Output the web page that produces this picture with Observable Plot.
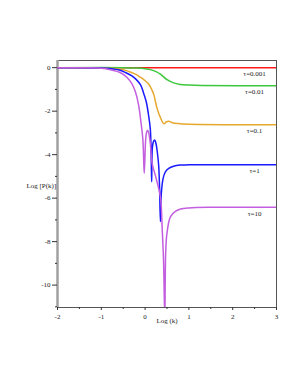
<!DOCTYPE html>
<html>
<head>
<meta charset="utf-8">
<script src="https://cdn.jsdelivr.net/npm/d3@7"></script>
<script src="https://cdn.jsdelivr.net/npm/@observablehq/plot@0.6"></script>
<style>
  html, body { margin: 0; padding: 0; background: #fff; }
</style>
</head>
<body>
<div id="chart"></div>
<script>
// Series labels
const tauLabels = ["τ=0.001", "τ=0.01", "τ=0.1", "τ=1", "τ=10"];
const colors = ["#ff1a1a", "#3cc83c", "#e6a82e", "#1a1aff", "#c45ee0"];

// [log k, log P(k)]
const tau0001 = [[-2, 0], [0, 0], [1, -0.005], [3, -0.005]];
const tau001 = [[-2, 0], [-0.5, 0], [-0.2, -0.02], [0, -0.05], [0.12, -0.09], [0.25, -0.18],
  [0.35, -0.3], [0.5, -0.55], [0.65, -0.7], [0.8, -0.77], [1.0, -0.8], [1.3, -0.82], [3, -0.83]];
const tau01 = [[-2, 0], [-1, -0.01], [-0.7, -0.04], [-0.5, -0.1], [-0.34, -0.2], [-0.2, -0.32],
  [-0.1, -0.45], [0, -0.6], [0.08, -0.75], [0.15, -1.0], [0.2, -1.25], [0.27, -1.85],
  [0.35, -2.3], [0.43, -2.58], [0.48, -2.5], [0.54, -2.46], [0.62, -2.53], [0.75, -2.57],
  [1, -2.6], [3, -2.62]];
const tau1 = [[-2, 0], [-1, -0.01], [-0.8, -0.04], [-0.57, -0.12], [-0.45, -0.22], [-0.3, -0.38],
  [-0.2, -0.55], [-0.1, -0.8], [-0.03, -1.2], [0.03, -1.6], [0.08, -2.2], [0.12, -2.85],
  [0.14, -4.2], [0.15, -5.25], [0.165, -3.7], [0.19, -3.4], [0.22, -3.33], [0.25, -3.5],
  [0.28, -3.9], [0.31, -4.5], [0.33, -5.5], [0.35, -7.08], [0.37, -5.8], [0.41, -5.1],
  [0.46, -4.8], [0.54, -4.63], [0.65, -4.53], [0.8, -4.48], [1, -4.47], [3, -4.47]];
const tau10 = [[-2, 0], [-1.3, -0.005], [-1, -0.03], [-0.79, -0.1], [-0.57, -0.22], [-0.41, -0.45],
  [-0.3, -0.75], [-0.22, -1.12], [-0.15, -1.7], [-0.1, -2.42], [-0.05, -3.33], [-0.02, -4.86],
  [0.01, -3.4], [0.03, -3.0], [0.055, -2.88], [0.08, -2.98], [0.12, -3.5], [0.16, -4.4],
  [0.24, -5.0], [0.35, -5.95], [0.39, -7.4], [0.42, -8.8], [0.45, -11.6], [0.47, -8.5],
  [0.5, -7.6], [0.58, -6.85], [0.7, -6.6], [0.81, -6.5], [1, -6.45], [1.5, -6.42], [3, -6.42]];
const seriesData = [tau0001, tau001, tau01, tau1, tau10];

// Ticks
const xTicks = [-2, -1, 0, 1, 2, 3];
const xMinorTicks = [-1.5, -0.5, 0.5, 1.5, 2.5];
const yTicks = [0, -2, -4, -6, -8, -10];
const yMinorTicks = [-1, -3, -5, -7, -9, -11];
const xLabel = "Log (k)";
const yLabel = "Log [P(k)]";
const labelX = 2.5;

const lineMarks = seriesData.map((s, i) =>
  Plot.line(s, {x: d => d[0], y: d => d[1], stroke: colors[i], strokeWidth: 1.5,
    curve: "catmull-rom", clip: true}));

const labelData = seriesData.map((s, i) => ({x: labelX, y: s[s.length - 1][1], t: tauLabels[i]}));

const chart = Plot.plot({
  width: 298,
  height: 385,
  marginLeft: 57,
  marginRight: 22,
  marginTop: 60,
  marginBottom: 78,
  style: {fontFamily: "'Liberation Serif', serif", fontSize: "7px", background: "#fff", color: "#222"},
  x: {domain: [-2, 3]},
  y: {domain: [-11.03, 0.33]},
  marks: [
    Plot.frame({stroke: "#555", strokeWidth: 1}),
    Plot.ruleX([-2], {stroke: "#a0a0a0", strokeWidth: 2.5}),
    Plot.axisX({ticks: xTicks, tickSize: 3, tickPadding: 4, tickFormat: d => String(d), label: null, stroke: "#333"}),
    Plot.axisX({ticks: xMinorTicks, tickSize: 2, text: null, label: null, stroke: "#333"}),
    Plot.axisY({ticks: yTicks, tickSize: 5, tickPadding: 2, tickFormat: d => String(d), label: null, stroke: "#333"}),
    Plot.axisY({ticks: yMinorTicks, tickSize: 2, text: null, label: null, stroke: "#333"}),
    ...lineMarks,
    Plot.text(labelData, {x: "x", y: "y", text: "t", dy: 6, fill: "#222"}),
    Plot.text([yLabel], {frameAnchor: "left", dx: -31, dy: 1.5, fill: "#222"}),
    Plot.text([xLabel], {frameAnchor: "bottom", dy: 15, fill: "#222"})
  ]
});
document.getElementById("chart").appendChild(chart);
</script>
</body>
</html>
